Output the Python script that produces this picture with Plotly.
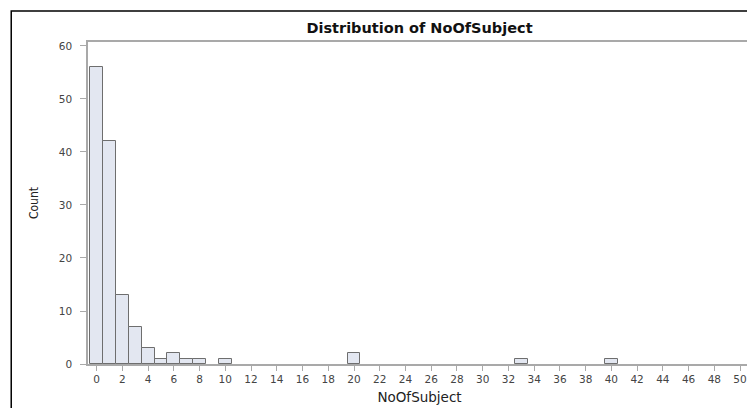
import plotly.graph_objects as go

# Histogram counts (bins of width 1 centred on integers)
subjects = [0, 1, 2, 3, 4, 5, 6, 7, 8, 10, 20, 33, 40]
counts = [56, 42, 13, 7, 3, 1, 2, 1, 1, 1, 2, 1, 1]

x_ticks = list(range(0, 51, 2))
y_ticks = [0, 10, 20, 30, 40, 50, 60]

fig = go.Figure()
fig.add_trace(go.Bar(
    x=subjects, y=counts, width=1,
    marker=dict(color="#e3e7f1", line=dict(color="#6e6e6e", width=1)),
    showlegend=False,
))

axis_col = "#a9a9a9"
tick_font = dict(family="DejaVu Sans", size=10.5, color="#444444")

# the page body adds an 8px margin, so the figure is sized to fit the window
W, H = 747, 400
L, R, T, B = 80, 2, 34, 44
pw, ph = W - L - R, H - T - B

fig.update_layout(
    width=W, height=H,
    margin=dict(l=L, r=R, t=T, b=B),
    paper_bgcolor="white", plot_bgcolor="white",
    bargap=0,
    title=dict(text="<b>Distribution of NoOfSubject</b>",
               font=dict(family="DejaVu Sans", size=14.5, color="#111111"),
               x=0.5, xref="paper", xanchor="center",
               y=1 - 20 / H, yref="container", yanchor="middle"),
    xaxis=dict(range=[-0.67, 50.85], tickvals=x_ticks, ticktext=[str(t) for t in x_ticks],
               showgrid=False, zeroline=False,
               showline=True, linecolor=axis_col, linewidth=1.5, mirror=True,
               ticks="outside", ticklen=5, tickcolor=axis_col, tickfont=tick_font,
               title=dict(text="NoOfSubject", standoff=8,
                          font=dict(family="DejaVu Sans", size=13.5, color="#222222"))),
    yaxis=dict(range=[0, 60.75], tickvals=y_ticks, ticktext=[str(t) for t in y_ticks],
               showgrid=False, zeroline=False,
               showline=True, linecolor=axis_col, linewidth=1.5, mirror=True,
               ticks="outside", ticklen=6, tickcolor=axis_col, tickfont=tick_font,
               ticklabelstandoff=6,
               title=dict(text="Count", standoff=18,
                          font=dict(family="DejaVu Sans Condensed", size=12, color="#222222"))),
    shapes=[dict(type="rect", xref="paper", yref="paper",
                 x0=(3 - L) / pw, x1=1.2, y0=-0.3, y1=1 + (T - 3) / ph,
                 line=dict(color="black", width=1.5), fillcolor="rgba(0,0,0,0)")],
)

fig.write_html("out.html")
